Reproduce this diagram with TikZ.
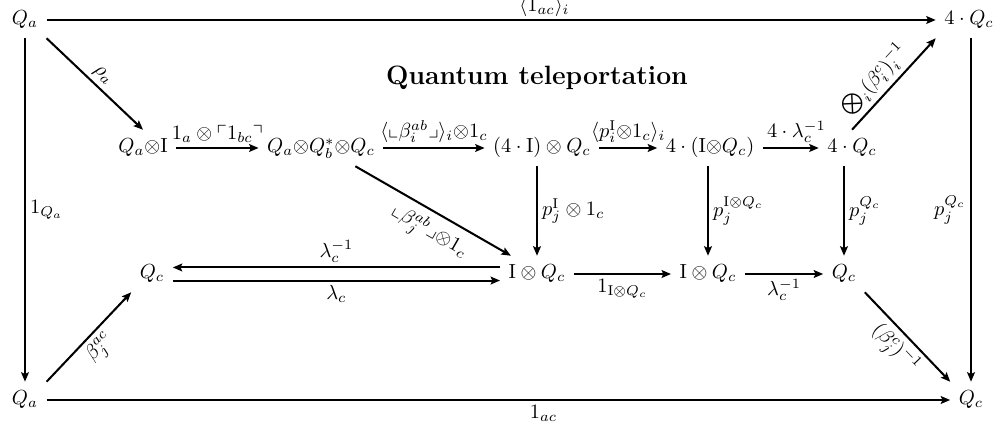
\documentclass[tikz,border=0pt]{standalone}
\usepackage{amsmath,amssymb}
\usetikzlibrary{arrows.meta}
\begin{document}
\begin{tikzpicture}[x=0.49pt,y=0.49pt,
  obj/.style={inner sep=4pt, text height=7pt, text depth=2.5pt},
  lab/.style={inner sep=2pt},
  arr/.style={line width=1pt, -{Stealth[length=4.6pt,width=3.8pt,inset=0.8pt]}}
]
\useasboundingbox (0,0) rectangle (1002,-431);
% nodes
\node[obj] (qa1)    at (25,-20)  {$Q_a$};
\node[obj] (qc4t)   at (969,-20) {$4\cdot Q_c$};
\node[font=\fontsize{13}{15}\selectfont\bfseries] (title) at (537,-78) {Quantum teleportation};
\node[obj] (qai)    at (143,-148) {$Q_a{\otimes}\mathrm{I}$};
\node[obj] (qaqbqc) at (321,-148) {$Q_a{\otimes}Q_b^*{\otimes}Q_c$};
\node[obj] (fourI)  at (542,-148) {$(4\cdot\mathrm{I})\otimes Q_c$};
\node[obj] (fourIQ) at (710,-148) {$4\cdot(\mathrm{I}{\otimes}Q_c)$};
\node[obj] (fourQ)  at (852,-148) {$4\cdot Q_c$};
\node[obj] (qcl)    at (152,-274) {$Q_c$};
\node[obj] (iq1)    at (537,-274) {$\mathrm{I}\otimes Q_c$};
\node[obj] (iq2)    at (708,-274) {$\mathrm{I}\otimes Q_c$};
\node[obj] (qc3)    at (844,-274) {$Q_c$};
\node[obj] (qa2)    at (25,-400) {$Q_a$};
\node[obj] (qc5)    at (971,-400) {$Q_c$};
% outer frame
\draw[arr] (qa1) -- node[lab,above,pos=0.56,inner sep=1pt] {$\langle 1_{ac}\rangle_i$} (qc4t);
\draw[arr] (qa1) -- node[lab,right] {$1_{Q_a}$} (qa2);
\draw[arr] (qc4t.south -| qc5) -- node[lab,left] {$p_j^{Q_c}$} (qc5);
\draw[arr] (qa2) -- node[lab,below,pos=0.55] {$1_{ac}$} (qc5);
% diagonals
\draw[arr] (qa1.south east) -- node[lab,above,sloped] {$\rho_a$} (qai.north);
\draw[arr] (fourQ.north) -- node[lab,above,sloped,pos=0.42] {$\bigotimes_i(\beta_i^c)_i^{-1}$} (qc4t.south west);
\draw[arr] (qaqbqc.-28) -- node[lab,below,sloped,pos=0.54,inner sep=3pt] {$\llcorner\beta_j^{ab}\lrcorner{\otimes}1_c$} (iq1.145);
\draw[arr] (qc3.south east) -- node[lab,below,sloped] {$(\beta_j^c)^{-1}$} (qc5.north west);
\draw[arr] (qa2.north east) -- node[lab,below,sloped] {$\beta_j^{ac}$} (qcl.south west);
% middle row
\draw[arr] (qai) -- node[lab,above] {$1_a\otimes\ulcorner 1_{bc}\urcorner$} (qaqbqc);
\draw[arr] (qaqbqc) -- node[lab,above] {$\langle\llcorner\beta_i^{ab}\lrcorner\rangle_i{\otimes}1_c$} (fourI);
\draw[arr] (fourI) -- node[lab,above] {$\langle p_i^{\mathrm{I}}{\otimes}1_c\rangle_i$} (fourIQ);
\draw[arr] (fourIQ) -- node[lab,above,pos=0.6] {$4\cdot\lambda_c^{-1}$} (fourQ);
% verticals
\draw[arr] (fourI.south -| iq1) -- node[lab,right] {$p_j^{\mathrm{I}}\otimes 1_c$} (iq1);
\draw[arr] (fourIQ.south -| iq2) -- node[lab,right] {$p_j^{\mathrm{I}\otimes Q_c}$} (iq2);
\draw[arr] (fourQ.south -| qc3) -- node[lab,right] {$p_j^{Q_c}$} (qc3);
% bottom row
\draw[arr] ([yshift=3.2pt]iq1.west) -- node[lab,above] {$\lambda_c^{-1}$} ([yshift=3.2pt]qcl.east);
\draw[arr] ([yshift=-3.2pt]qcl.east) -- node[lab,below] {$\lambda_c$} ([yshift=-3.2pt]iq1.west);
\draw[arr] (iq1) -- node[lab,below] {$1_{\mathrm{I}\otimes Q_c}$} (iq2);
\draw[arr] (iq2) -- node[lab,below] {$\lambda_c^{-1}$} (qc3);
\end{tikzpicture}
\end{document}
